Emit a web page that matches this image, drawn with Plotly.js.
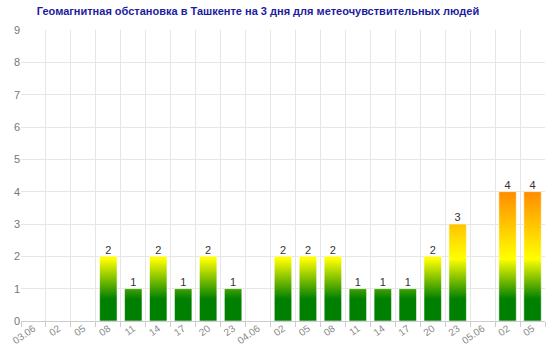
<!DOCTYPE html>
<html>
<head>
<meta charset="utf-8">
<script src="https://cdn.plot.ly/plotly-3.0.1.min.js"></script>
<style>html,body{margin:0;padding:0;background:#fff;}#chart{width:560px;height:351px;}</style>
</head>
<body>
<div id="chart"></div>
<script>
const titleText = "Геомагнитная обстановка в Ташкенте на 3 дня для метеочувствительных людей";
const categories = ["03.06","02","05","08","11","14","17","20","23","04.06","02","05","08","11","14","17","20","23","05.06","02","05"];
const kpValues = [0,0,0,2,1,2,1,2,1,0,2,2,2,1,1,1,2,3,0,4,4];

const n = categories.length;
const idx = categories.map((_, i) => i);
const halfW = 0.35;

// build bar outlines from the data (each bar: a closed polygon on the data axes)
const bx = [], by = [];
kpValues.forEach((v, i) => {
  if (v <= 0) return;
  bx.push(i - halfW, i - halfW, i + halfW, i + halfW, i - halfW, null);
  by.push(0, v, v, 0, 0, null);
});

const bars = {
  type: 'scatter', mode: 'lines', x: bx, y: by,
  fill: 'toself',
  line: {color: 'rgba(255,255,255,0.55)', width: 1},
  fillgradient: {
    type: 'vertical', start: 0, stop: 4,
    colorscale: [[0, '#008000'], [0.17, '#008000'], [0.48, '#ffff00'], [1, '#ff8c00']]
  },
  hoverinfo: 'skip', showlegend: false
};

const labels = {
  type: 'scatter', mode: 'text',
  x: idx.filter(i => kpValues[i] > 0),
  y: kpValues.filter(v => v > 0),
  text: kpValues.filter(v => v > 0).map(String),
  textposition: 'top center',
  textfont: {family: 'Liberation Sans, Arial, sans-serif', size: 11, color: '#333333'},
  hoverinfo: 'skip', showlegend: false
};

const gridHelper = {
  type: 'scatter', mode: 'markers', x: [-0.5, n - 0.5], y: [0, 0],
  xaxis: 'x2', marker: {opacity: 0}, hoverinfo: 'skip', showlegend: false
};

const layout = {
  width: 560, height: 351,
  margin: {l: 21, r: 15, t: 30, b: 30},
  paper_bgcolor: '#ffffff', plot_bgcolor: '#ffffff',
  font: {family: 'Liberation Sans, Arial, sans-serif', size: 11, color: '#666666'},
  title: {
    text: titleText,
    font: {family: 'Liberation Sans, Arial, sans-serif', size: 11, color: '#1c1ca0', weight: 'bold'},
    x: 258/560, xanchor: 'center', y: 1 - 11/351, yanchor: 'middle'
  },
  xaxis: {
    range: [-0.5, n - 0.5], tickvals: idx, ticktext: categories,
    tickangle: -35, showgrid: false, zeroline: false,
    showline: true, linecolor: '#cccccc', linewidth: 1,
    ticks: '', ticklabelstandoff: -3,
    tickfont: {size: 10, color: '#888888'}, fixedrange: true
  },
  xaxis2: {
    overlaying: 'x', side: 'bottom', range: [-0.5, n - 0.5],
    tickvals: idx.concat([n]).map(i => i - 0.5),
    showticklabels: false, showgrid: true, gridcolor: '#e6e6e6', gridwidth: 1,
    ticks: 'outside', ticklen: 5, tickcolor: '#cccccc', zeroline: false, showline: false
  },
  yaxis: {
    range: [0, 9], dtick: 1, tick0: 0, showgrid: true, gridcolor: '#e6e6e6',
    zeroline: false, showline: false, ticks: '',
    tickfont: {size: 11, color: '#777777'}, fixedrange: true
  },
  showlegend: false
};

Plotly.newPlot('chart', [bars, labels, gridHelper], layout, {displayModeBar: false, staticPlot: true});
</script>
</body>
</html>
